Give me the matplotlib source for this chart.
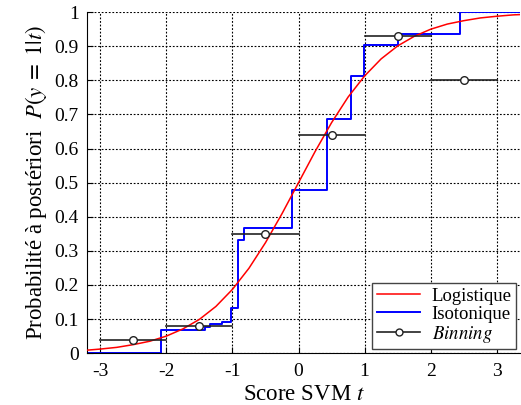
"""Calibration des scores SVM : logistique, isotonique et binning"""

import matplotlib
matplotlib.use('Agg')
import matplotlib.pyplot as plt

matplotlib.rcParams['font.family'] = ['Liberation Serif', 'DejaVu Serif']
matplotlib.rcParams['mathtext.fontset'] = 'stix'
matplotlib.rcParams['axes.unicode_minus'] = False

# courbe logistique
logit_x = [-3.25, -3.0, -2.75, -2.5, -2.25, -2.0, -1.75, -1.5, -1.25, -1.0, -0.75, -0.5, -0.25,
           0.0, 0.25, 0.5, 0.75, 1.0, 1.25, 1.5, 1.75, 2.0, 2.25, 2.5, 2.75, 3.0, 3.25, 3.5]
logit_y = [0.008, 0.012, 0.017, 0.025, 0.035, 0.050, 0.071, 0.099, 0.137, 0.187, 0.249, 0.324, 0.409,
           0.500, 0.591, 0.676, 0.751, 0.813, 0.863, 0.901, 0.929, 0.950, 0.965, 0.975, 0.983, 0.988, 0.992, 0.994]

# régression isotonique (marches)
iso_x = [-3.2, -2.08, -1.41, -1.34, -1.16, -1.02, -0.92, -0.82, -0.10, 0.43, 0.79, 0.99, 1.50, 2.44, 3.35]
iso_y = [0.0, 0.067, 0.077, 0.085, 0.092, 0.132, 0.331, 0.366, 0.478, 0.686, 0.812, 0.905, 0.937, 1.0, 1.0]

# binning : bornes des intervalles et probabilité
bin_lo = [-3, -2, -1, 0, 1, 2]
bin_hi = [-2, -1, 0, 1, 2, 3]
bin_p = [0.04, 0.08, 0.35, 0.64, 0.93, 0.80]

fig, ax = plt.subplots(figsize=(5.21, 4.05), dpi=100)
fig.subplots_adjust(left=0.167, right=0.998, bottom=0.128, top=0.970)

ax.plot(logit_x, logit_y, color='red', linewidth=1.1, label='Logistique', zorder=3)
ax.plot(iso_x, iso_y, color='blue', linewidth=1.4, drawstyle='steps-post', label='Isotonique', zorder=2)

for i in range(len(bin_p)):
    ax.plot([bin_lo[i], bin_hi[i]], [bin_p[i], bin_p[i]], color='#222222', linewidth=1.2, zorder=4)
centres = [(a + b) / 2 for a, b in zip(bin_lo, bin_hi)]
ax.plot(centres, bin_p, linestyle='none', marker='o', markersize=5.5,
        markerfacecolor='white', markeredgecolor='#222222', markeredgewidth=1.0, zorder=5)
# entrée de légende pour le binning
ax.plot([], [], color='#222222', linewidth=1.2, marker='o', markersize=5,
        markerfacecolor='white', markeredgecolor='#222222', label=r'$\mathit{Binning}$')

ax.set_xlim(-3.2, 3.35)
ax.set_ylim(0, 1)
ax.set_xticks(range(-3, 4))
ax.set_yticks([i / 10 for i in range(11)])
ax.set_yticklabels(['0'] + ['%.1f' % (i / 10) for i in range(1, 10)] + ['1'])
ax.tick_params(direction='in', labelsize=14, length=4)
ax.tick_params(axis='y', pad=6)
ax.tick_params(axis='x', pad=7)
ax.grid(True, color='black', linestyle=(0, (1.6, 1.6)), linewidth=0.8)
ax.spines['top'].set_visible(False)
ax.spines['right'].set_visible(False)

ax.set_xlabel(r'Score SVM $t$', fontsize=16.5, labelpad=3)
ax.set_ylabel(r'Probabilité à postériori  $P(y\;=\;1|t)$', fontsize=16.5, labelpad=4)

leg = ax.legend(loc='lower right', fontsize=13.5, fancybox=False, framealpha=1,
                edgecolor='#444444', borderpad=0.25, labelspacing=0.05, handlelength=2.3,
                handletextpad=0.6, borderaxespad=0.2)
leg.get_frame().set_linewidth(1.0)

plt.savefig('out.png', dpi=100)
plt.close()
